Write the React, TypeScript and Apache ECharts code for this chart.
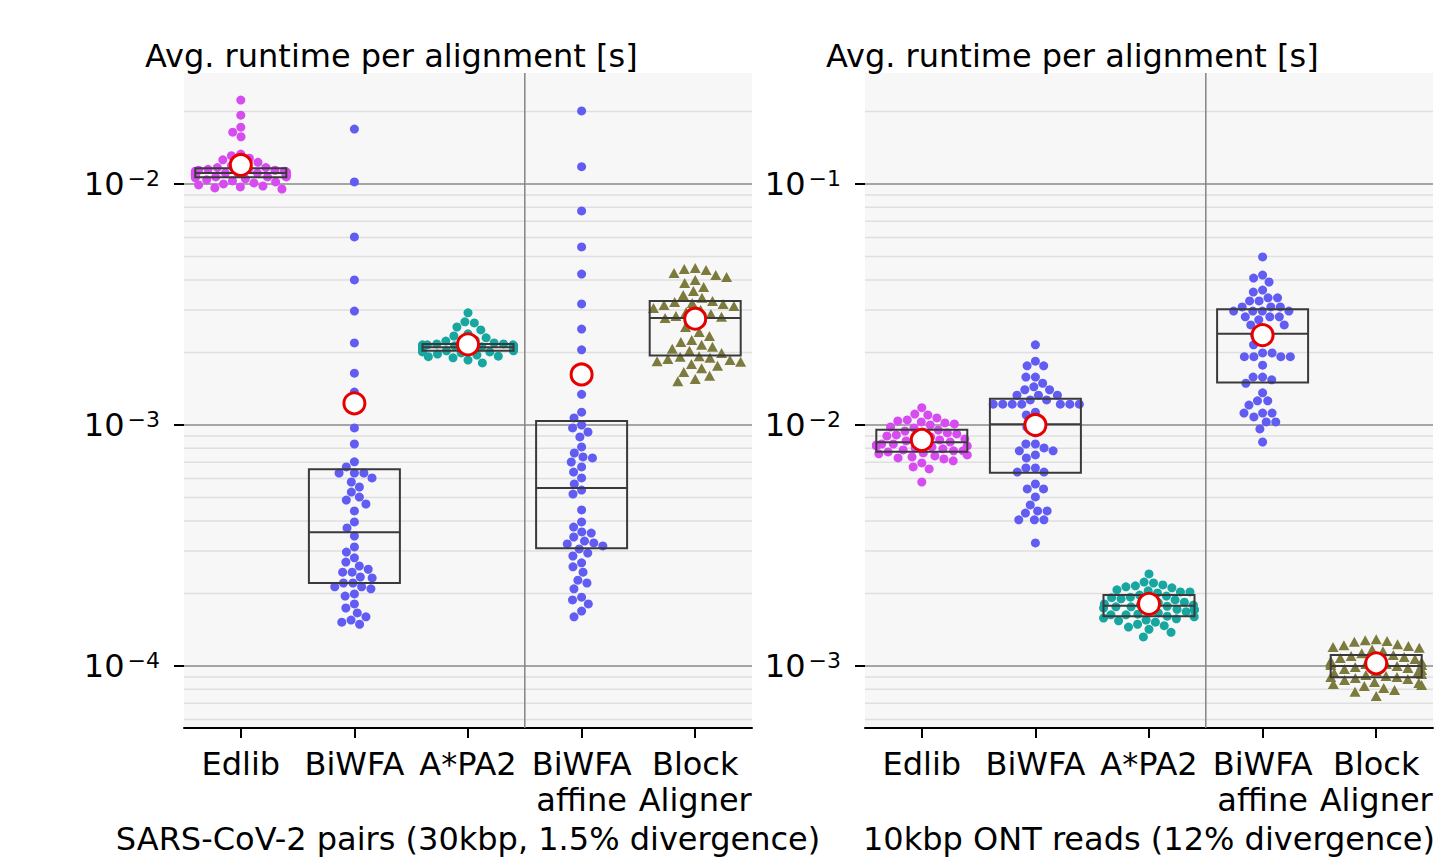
import React, { useEffect, useRef } from 'react';
import * as echarts from 'echarts';

const FONT = 'DejaVu Sans';

const categories = ['Edlib', 'BiWFA', 'A*PA2', 'BiWFA\naffine', 'Block\nAligner'];
const panelTitles = ['Avg. runtime per alignment [s]', 'Avg. runtime per alignment [s]'];
const panelXLabels = ['SARS-CoV-2 pairs (30kbp, 1.5% divergence)', '10kbp ONT reads (12% divergence)'];

const yMinLeft = 5.53e-5;
const yMaxLeft = 0.02887;
const yMinRight = 5.53e-4;
const yMaxRight = 0.2887;

const majorTicksLeft = [1e-4, 1e-3, 1e-2];
const majorTicksRight = [1e-3, 1e-2, 1e-1];
const minorLinesLeft = [6e-5, 7e-5, 8e-5, 9e-5, 2e-4, 3e-4, 4e-4, 5e-4, 6e-4, 7e-4, 8e-4, 9e-4, 2e-3, 3e-3, 4e-3, 5e-3, 6e-3, 7e-3, 8e-3, 9e-3, 2e-2];
const minorLinesRight = [6e-4, 7e-4, 8e-4, 9e-4, 2e-3, 3e-3, 4e-3, 5e-3, 6e-3, 7e-3, 8e-3, 9e-3, 2e-2, 3e-2, 4e-2, 5e-2, 6e-2, 7e-2, 8e-2, 9e-2, 2e-1];
const separatorPosition = 2.5;

// ---- SARS-CoV-2 pairs (left panel) ----
const sarsEdlib = [2.23e-2, 1.93e-2, 1.72e-2, 1.64e-2, 1.57e-2, 1.33e-2, 1.31e-2, 1.28e-2, 1.26e-2, 1.23e-2, 1.21e-2, 1.19e-2, 1.17e-2, 1.17e-2, 1.15e-2, 1.15e-2, 1.14e-2, 1.14e-2, 1.13e-2, 1.13e-2, 1.12e-2, 1.12e-2, 1.12e-2, 1.11e-2, 1.11e-2, 1.11e-2, 1.10e-2, 1.10e-2, 1.10e-2, 1.09e-2, 1.09e-2, 1.09e-2, 1.08e-2, 1.08e-2, 1.08e-2, 1.07e-2, 1.07e-2, 1.07e-2, 1.06e-2, 1.05e-2, 1.04e-2, 1.03e-2, 1.02e-2, 1.01e-2, 1.00e-2, 9.91e-3, 9.81e-3, 9.72e-3, 9.63e-3, 9.53e-3];
const sarsBiwfa = [1.69e-2, 1.02e-2, 6.03e-3, 4.00e-3, 2.97e-3, 2.19e-3, 1.64e-3, 1.37e-3, 9.72e-4, 8.34e-4, 7.03e-4, 6.70e-4, 6.32e-4, 6.32e-4, 6.32e-4, 6.03e-4, 5.80e-4, 5.53e-4, 5.27e-4, 5.02e-4, 4.88e-4, 4.70e-4, 4.40e-4, 3.96e-4, 3.74e-4, 3.46e-4, 3.12e-4, 2.97e-4, 2.81e-4, 2.70e-4, 2.60e-4, 2.52e-4, 2.45e-4, 2.45e-4, 2.34e-4, 2.32e-4, 2.21e-4, 2.21e-4, 2.13e-4, 2.13e-4, 2.09e-4, 1.99e-4, 1.95e-4, 1.81e-4, 1.74e-4, 1.66e-4, 1.60e-4, 1.55e-4, 1.52e-4, 1.49e-4];
const sarsApa2 = [2.92e-3, 2.68e-3, 2.65e-3, 2.55e-3, 2.48e-3, 2.39e-3, 2.34e-3, 2.30e-3, 2.25e-3, 2.23e-3, 2.21e-3, 2.19e-3, 2.17e-3, 2.17e-3, 2.15e-3, 2.15e-3, 2.15e-3, 2.13e-3, 2.13e-3, 2.13e-3, 2.13e-3, 2.11e-3, 2.11e-3, 2.11e-3, 2.11e-3, 2.09e-3, 2.09e-3, 2.09e-3, 2.09e-3, 2.09e-3, 2.07e-3, 2.07e-3, 2.07e-3, 2.07e-3, 2.05e-3, 2.05e-3, 2.05e-3, 2.03e-3, 2.03e-3, 2.03e-3, 2.01e-3, 2.01e-3, 1.99e-3, 1.97e-3, 1.95e-3, 1.93e-3, 1.92e-3, 1.90e-3, 1.86e-3, 1.81e-3];
const sarsBiwfaAffine = [2.01e-2, 1.18e-2, 7.73e-3, 5.48e-3, 4.23e-3, 3.18e-3, 2.50e-3, 2.05e-3, 1.34e-3, 1.13e-3, 1.07e-3, 1.00e-3, 9.72e-4, 9.35e-4, 8.92e-4, 8.11e-4, 7.65e-4, 7.37e-4, 7.30e-4, 7.02e-4, 6.70e-4, 6.38e-4, 6.03e-4, 5.69e-4, 5.37e-4, 5.17e-4, 4.44e-4, 3.96e-4, 3.77e-4, 3.60e-4, 3.56e-4, 3.43e-4, 3.30e-4, 3.24e-4, 3.21e-4, 3.15e-4, 3.06e-4, 2.94e-4, 2.86e-4, 2.68e-4, 2.58e-4, 2.45e-4, 2.27e-4, 2.21e-4, 2.09e-4, 1.93e-4, 1.88e-4, 1.81e-4, 1.69e-4, 1.60e-4];
const sarsBlock = [4.48e-3, 4.44e-3, 4.40e-3, 4.27e-3, 4.19e-3, 4.11e-3, 4.00e-3, 3.88e-3, 3.74e-3, 3.60e-3, 3.46e-3, 3.37e-3, 3.27e-3, 3.24e-3, 3.21e-3, 3.18e-3, 3.15e-3, 3.12e-3, 3.06e-3, 3.00e-3, 2.94e-3, 2.89e-3, 2.83e-3, 2.81e-3, 2.78e-3, 2.68e-3, 2.55e-3, 2.43e-3, 2.34e-3, 2.25e-3, 2.21e-3, 2.15e-3, 2.11e-3, 2.07e-3, 2.03e-3, 1.99e-3, 1.93e-3, 1.92e-3, 1.90e-3, 1.88e-3, 1.86e-3, 1.84e-3, 1.83e-3, 1.79e-3, 1.76e-3, 1.72e-3, 1.66e-3, 1.60e-3, 1.55e-3, 1.52e-3];

const sarsQ1 = [1.066e-2, 2.21e-4, 2.03e-3, 3.08e-4, 1.94e-3];
const sarsMedian = [1.111e-2, 3.59e-4, 2.10e-3, 5.48e-4, 2.78e-3];
const sarsQ3 = [1.162e-2, 6.55e-4, 2.17e-3, 1.038e-3, 3.27e-3];
const sarsMean = [1.199e-2, 1.23e-3, 2.16e-3, 1.62e-3, 2.76e-3];

// ---- 10kbp ONT reads (right panel) ----
const ontEdlib = [1.18e-2, 1.11e-2, 1.10e-2, 1.07e-2, 1.05e-2, 1.04e-2, 1.03e-2, 1.02e-2, 1.01e-2, 1.00e-2, 9.81e-3, 9.72e-3, 9.53e-3, 9.44e-3, 9.35e-3, 9.27e-3, 9.18e-3, 9.09e-3, 9.00e-3, 8.92e-3, 8.83e-3, 8.75e-3, 8.67e-3, 8.59e-3, 8.50e-3, 8.42e-3, 8.34e-3, 8.34e-3, 8.26e-3, 8.19e-3, 8.19e-3, 8.11e-3, 8.03e-3, 7.96e-3, 7.88e-3, 7.81e-3, 7.81e-3, 7.73e-3, 7.66e-3, 7.59e-3, 7.51e-3, 7.44e-3, 7.37e-3, 7.30e-3, 7.23e-3, 7.10e-3, 6.96e-3, 6.70e-3, 6.57e-3, 5.80e-3];
const ontBiwfa = [2.15e-2, 1.84e-2, 1.76e-2, 1.76e-2, 1.58e-2, 1.58e-2, 1.49e-2, 1.44e-2, 1.40e-2, 1.40e-2, 1.33e-2, 1.33e-2, 1.33e-2, 1.27e-2, 1.27e-2, 1.22e-2, 1.22e-2, 1.22e-2, 1.22e-2, 1.22e-2, 1.22e-2, 1.22e-2, 1.13e-2, 1.10e-2, 1.02e-2, 9.81e-3, 9.27e-3, 8.34e-3, 8.34e-3, 8.03e-3, 7.81e-3, 7.81e-3, 7.51e-3, 7.30e-3, 6.63e-3, 6.63e-3, 6.38e-3, 6.38e-3, 5.69e-3, 5.43e-3, 5.43e-3, 5.03e-3, 4.66e-3, 4.40e-3, 4.40e-3, 4.31e-3, 4.04e-3, 4.04e-3, 4.04e-3, 3.24e-3];
const ontApa2 = [2.41e-3, 2.23e-3, 2.21e-3, 2.17e-3, 2.15e-3, 2.13e-3, 2.11e-3, 2.07e-3, 2.05e-3, 2.03e-3, 2.03e-3, 2.01e-3, 1.97e-3, 1.95e-3, 1.93e-3, 1.92e-3, 1.90e-3, 1.88e-3, 1.86e-3, 1.84e-3, 1.83e-3, 1.81e-3, 1.79e-3, 1.79e-3, 1.77e-3, 1.76e-3, 1.76e-3, 1.74e-3, 1.72e-3, 1.71e-3, 1.71e-3, 1.69e-3, 1.68e-3, 1.66e-3, 1.64e-3, 1.63e-3, 1.63e-3, 1.61e-3, 1.60e-3, 1.58e-3, 1.57e-3, 1.55e-3, 1.54e-3, 1.52e-3, 1.49e-3, 1.47e-3, 1.45e-3, 1.42e-3, 1.38e-3, 1.32e-3];
const ontBiwfaAffine = [4.98e-2, 4.19e-2, 4.07e-2, 3.92e-2, 3.63e-2, 3.56e-2, 3.37e-2, 3.37e-2, 3.27e-2, 3.27e-2, 3.09e-2, 3.09e-2, 3.09e-2, 2.97e-2, 2.97e-2, 2.97e-2, 2.97e-2, 2.81e-2, 2.81e-2, 2.81e-2, 2.73e-2, 2.60e-2, 2.60e-2, 2.48e-2, 2.36e-2, 2.21e-2, 2.15e-2, 1.99e-2, 1.99e-2, 1.92e-2, 1.92e-2, 1.92e-2, 1.92e-2, 1.77e-2, 1.58e-2, 1.58e-2, 1.54e-2, 1.49e-2, 1.36e-2, 1.26e-2, 1.26e-2, 1.21e-2, 1.12e-2, 1.12e-2, 1.12e-2, 1.08e-2, 1.03e-2, 1.03e-2, 9.63e-3, 8.50e-3];
const ontBlock = [1.29e-3, 1.28e-3, 1.27e-3, 1.26e-3, 1.23e-3, 1.22e-3, 1.21e-3, 1.20e-3, 1.19e-3, 1.17e-3, 1.15e-3, 1.13e-3, 1.11e-3, 1.10e-3, 1.09e-3, 1.08e-3, 1.07e-3, 1.06e-3, 1.05e-3, 1.04e-3, 1.03e-3, 1.02e-3, 1.02e-3, 1.01e-3, 1.01e-3, 1.00e-3, 9.91e-4, 9.81e-4, 9.72e-4, 9.63e-4, 9.53e-4, 9.44e-4, 9.35e-4, 9.27e-4, 9.18e-4, 9.09e-4, 9.00e-4, 9.00e-4, 8.92e-4, 8.83e-4, 8.75e-4, 8.59e-4, 8.50e-4, 8.42e-4, 8.34e-4, 8.26e-4, 8.11e-4, 7.96e-4, 7.81e-4, 7.51e-4];

const ontQ1 = [7.75e-3, 6.34e-3, 1.61e-3, 1.50e-2, 8.98e-4];
const ontMedian = [8.48e-3, 1.007e-2, 1.78e-3, 2.39e-2, 1.00e-3];
const ontQ3 = [9.56e-3, 1.285e-2, 1.97e-3, 3.02e-2, 1.11e-3];
const ontMean = [8.67e-3, 1.00e-2, 1.81e-3, 2.36e-2, 1.026e-3];

const categoryColors = ['#d64cf0', '#615cf2', '#17a6a0', '#615cf2', '#7c7b3d'];

type Panel = {
  values: number[][];
  q1: number[];
  median: number[];
  q3: number[];
  mean: number[];
  yMin: number;
  yMax: number;
  majors: number[];
  minors: number[];
};

const panels: Panel[] = [
  { values: [sarsEdlib, sarsBiwfa, sarsApa2, sarsBiwfaAffine, sarsBlock], q1: sarsQ1, median: sarsMedian, q3: sarsQ3, mean: sarsMean, yMin: yMinLeft, yMax: yMaxLeft, majors: majorTicksLeft, minors: minorLinesLeft },
  { values: [ontEdlib, ontBiwfa, ontApa2, ontBiwfaAffine, ontBlock], q1: ontQ1, median: ontMedian, q3: ontQ3, mean: ontMean, yMin: yMinRight, yMax: yMaxRight, majors: majorTicksRight, minors: minorLinesRight },
];

const GRIDS = [
  { left: 184, top: 73, width: 568, height: 655 },
  { left: 865, top: 73, width: 568, height: 655 },
];
const TITLE_LEFT = [145, 826];

function beeswarm(ys: number[], d: number, maxHalf: number): number[] {
  const order = ys.map((_, i) => i).sort((a, b) => ys[a] - ys[b]);
  const placed: { x: number; y: number }[] = [];
  const out = new Array(ys.length).fill(0);
  for (const i of order) {
    const y = ys[i];
    const nb = placed.filter((p) => Math.abs(p.y - y) < d);
    const cands: number[] = [0];
    for (const p of nb) {
      const dx = Math.sqrt(d * d - (p.y - y) * (p.y - y));
      cands.push(p.x - dx, p.x + dx);
    }
    const sorted = cands.map((c, k) => ({ c, k })).sort((a, b) => Math.abs(a.c) - Math.abs(b.c) || a.k - b.k);
    let chosen = sorted[sorted.length - 1].c;
    for (const { c } of sorted) {
      if (nb.every((p) => (p.x - c) * (p.x - c) + (p.y - y) * (p.y - y) >= d * d - 1e-3)) {
        chosen = c;
        break;
      }
    }
    placed.push({ x: chosen, y });
    out[i] = chosen;
  }
  return out.map((x) => Math.max(-maxHalf, Math.min(maxHalf, x)));
}

function supLabel(v: number): string {
  const e = Math.round(Math.log10(v));
  if (Math.abs(Math.log10(v) - e) > 0.01) return '';
  return '10{sup|\u2212' + Math.abs(e) + '}';
}

// kind: 0 minor h-line, 1 major h-line, 2 vertical separator, 3 y-axis tick mark
function renderGuide(params: any, api: any) {
  const kind = api.value(2);
  const cs = params.coordSys;
  if (kind === 2) {
    const px = api.coord([api.value(0), api.value(1)])[0];
    return { type: 'line', silent: true, shape: { x1: px, y1: cs.y, x2: px, y2: cs.y + cs.height }, style: { stroke: '#858585', lineWidth: 1.5 } };
  }
  const py = api.coord([0, api.value(1)])[1];
  if (kind === 3) {
    return { type: 'line', silent: true, shape: { x1: cs.x - 10, y1: py, x2: cs.x, y2: py }, style: { stroke: '#000', lineWidth: 2 } };
  }
  return {
    type: 'line',
    silent: true,
    shape: { x1: cs.x, y1: py, x2: cs.x + cs.width, y2: py },
    style: { stroke: kind === 1 ? '#8a8a8a' : '#dfdfdf', lineWidth: 1.5 },
  };
}

function buildOption(swarmX: number[][][] | null): any {
  const grid = GRIDS.map((g) => ({ ...g, show: true, backgroundColor: '#f7f7f7', borderWidth: 0, containLabel: false, outerBoundsMode: 'none' }));
  const xAxis: any[] = [];
  const yAxis: any[] = [];
  const series: any[] = [];
  const title = panelTitles.map((t, p) => ({
    text: t,
    left: TITLE_LEFT[p],
    top: 38,
    padding: 0,
    textStyle: { fontFamily: FONT, fontSize: 32, fontWeight: 'normal', color: '#000', lineHeight: 36 },
  }));

  panels.forEach((pd, p) => {
    const catAxis = 2 * p;
    const valAxis = 2 * p + 1;
    xAxis.push({
      type: 'category',
      gridIndex: p,
      data: categories,
      boundaryGap: true,
      axisLine: { show: true, lineStyle: { color: '#000', width: 2 } },
      axisTick: { show: true, alignWithLabel: true, length: 10, lineStyle: { color: '#000', width: 2 } },
      axisLabel: { interval: 0, color: '#000', fontFamily: FONT, fontSize: 32, lineHeight: 36, margin: 18 },
      splitLine: { show: false },
      name: panelXLabels[p],
      nameLocation: 'middle',
      nameGap: 92,
      nameTextStyle: { fontFamily: FONT, fontSize: 32, color: '#000', lineHeight: 32 },
    });
    xAxis.push({ type: 'value', gridIndex: p, min: -0.5, max: 4.5, show: false });
    yAxis.push({
      type: 'log',
      logBase: 10,
      gridIndex: p,
      min: pd.yMin,
      max: pd.yMax,
      axisLine: { show: false },
      axisTick: { show: false },
      axisLabel: {
        customValues: pd.majors,
        formatter: supLabel,
        color: '#000',
        fontFamily: FONT,
        fontSize: 32,
        lineHeight: 32,
        margin: 24,
        rich: { sup: { fontFamily: FONT, fontSize: 22, lineHeight: 24, verticalAlign: 'top', color: '#000', padding: [0, 0, 0, 3] } },
      },
      splitLine: { show: false },
      minorTick: { show: false },
      minorSplitLine: { show: false },
    });

    const guides: number[][] = [
      ...pd.minors.map((v) => [0, v, 0]),
      ...pd.majors.map((v) => [0, v, 1]),
      [separatorPosition, pd.yMin, 2],
      ...pd.majors.map((v) => [0, v, 3]),
    ];
    series.push({
      type: 'custom',
      xAxisIndex: valAxis,
      yAxisIndex: p,
      z: 1,
      silent: true,
      clip: false,
      renderItem: renderGuide,
      data: guides,
    });

    // swarm points
    pd.values.forEach((vals, c) => {
      const isTri = c === 4;
      series.push({
        type: 'scatter',
        xAxisIndex: valAxis,
        yAxisIndex: p,
        z: 2,
        symbol: isTri ? 'triangle' : 'circle',
        symbolSize: isTri ? [11, 10] : 9,
        itemStyle: { color: categoryColors[c], opacity: 1 },
        data: vals.map((v, k) => [swarmX ? swarmX[p][c][k] : c, v]),
      });
    });

    // box plots
    series.push({
      type: 'boxplot',
      xAxisIndex: catAxis,
      yAxisIndex: p,
      z: 3,
      boxWidth: [91, 91],
      itemStyle: { color: 'rgba(0,0,0,0)', borderColor: '#3a3a3a', borderWidth: 2 },
      data: categories.map((_, i) => [pd.q1[i], pd.q1[i], pd.median[i], pd.q3[i], pd.q3[i]]),
    });

    // means
    series.push({
      type: 'scatter',
      xAxisIndex: catAxis,
      yAxisIndex: p,
      z: 4,
      symbol: 'circle',
      symbolSize: 21,
      itemStyle: { color: '#ffffff', borderColor: '#e60000', borderWidth: 3, opacity: 1 },
      data: pd.mean.map((m, i) => [i, m]),
    });
  });

  return {
    animation: false,
    backgroundColor: '#ffffff',
    textStyle: { fontFamily: FONT },
    title,
    grid,
    xAxis,
    yAxis,
    series,
  };
}

export default function App() {
  const ref = useRef<HTMLDivElement>(null);
  useEffect(() => {
    if (!ref.current) return;
    const chart = echarts.init(ref.current, null, { renderer: 'svg' });
    chart.setOption(buildOption(null));
    const swarmX = panels.map((pd, p) => {
      const x0 = chart.convertToPixel({ xAxisIndex: 2 * p + 1 } as any, 0) as unknown as number;
      const x1 = chart.convertToPixel({ xAxisIndex: 2 * p + 1 } as any, 1) as unknown as number;
      const band = x1 - x0;
      return pd.values.map((vals, c) => {
        const ys = vals.map((v) => chart.convertToPixel({ yAxisIndex: p } as any, v) as unknown as number);
        const d = c === 4 ? 11 : 9.5;
        const offs = beeswarm(ys, d, 0.4 * band);
        return offs.map((o) => c + o / band);
      });
    });
    chart.setOption(buildOption(swarmX), true);
    return () => chart.dispose();
  }, []);
  return <div ref={ref} style={{ position: 'absolute', left: 0, top: 0, width: 1455, height: 857, background: '#fff' }} />;
}
